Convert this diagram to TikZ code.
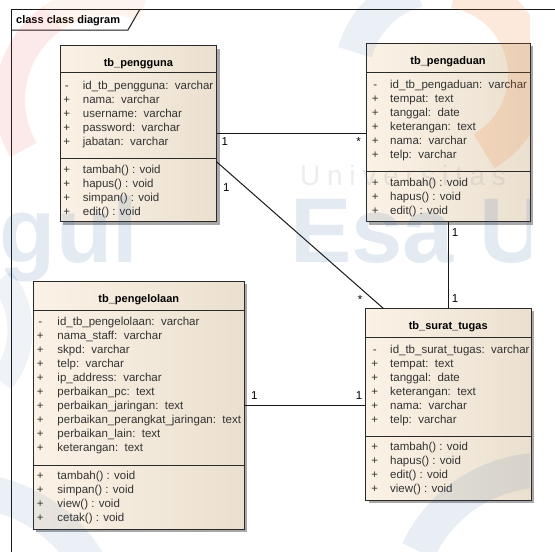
\documentclass[tikz,border=0pt]{standalone}
\usepackage{fontspec}
\setmainfont{Liberation Sans}
\newfontfamily\spacedfont[LetterSpace=24]{Liberation Sans}
\usetikzlibrary{calc}

\definecolor{boxleft}{HTML}{FBF2E6}
\definecolor{boxright}{HTML}{EBE0CF}
\definecolor{boxline}{HTML}{2A2A2A}
\definecolor{shadowgray}{HTML}{A8A8A8}
\definecolor{wmblue}{HTML}{2A5F9E}
\definecolor{wmorange}{HTML}{F07A2A}
\definecolor{wmred}{HTML}{D9342B}
\definecolor{wmgray}{HTML}{6D7480}

\tikzset{
  classbox/.style={draw=boxline, line width=1pt, left color=boxleft, right color=boxright,
    anchor=north west, inner sep=0pt, outer sep=0pt},
  sepline/.style={draw=boxline, line width=1pt},
  classtitle/.style={anchor=base, inner sep=0pt, font=\fontsize{11}{13}\selectfont\bfseries},
  members/.style={anchor=base west, inner sep=0pt, font=\fontsize{11.5}{14}\selectfont, text=black!80},
  mult/.style={anchor=base, inner sep=0pt, font=\fontsize{11.5}{14}\selectfont},
  assoc/.style={draw=black!90, line width=1pt},
  frameline/.style={draw=black!90, line width=1pt},
  wmtext/.style={inner sep=0pt, text opacity=0.13},
}

% class box: name, left, top, width, height, header height, attribute block bottom (from top)
\newcommand\umlclass[7]{%
  \fill[shadowgray] (#2+3,#3+3) rectangle ++(#4,#5);
  \node[classbox, minimum width=#4pt, minimum height=#5pt] (#1) at (#2,#3) {};
  \draw[sepline] ([yshift=-#6pt]#1.north west) -- ([yshift=-#6pt]#1.north east);
  \draw[sepline] ([yshift=-#7pt]#1.north west) -- ([yshift=-#7pt]#1.north east);
}
\newcommand\vis[1]{\makebox[10pt][c]{#1}}
% member list: gap between visibility column and text, rows
\newcommand\memberlist[2]{\begin{tabular}[t]{@{}c@{\hspace{#1}}l@{}}#2\end{tabular}}

\begin{document}
\begin{tikzpicture}[x=1pt,y=-1pt]
\useasboundingbox (0,0) rectangle (555,552);
\fill[white] (0,0) rectangle (555,552);
\clip (0,0) rectangle (555,552);

% diagram frame and its name tab
\draw[frameline] (11,9) rectangle (600,600);
\draw[frameline] (11,30) -- (128,30) -- (140,9);
\node[anchor=base west, inner sep=0pt, font=\fontsize{11}{13}\selectfont\bfseries] (frame-name) at (16,23.5) {class class diagram};

% classes
\umlclass{pengguna}{60}{45.7}{156.7}{176}{26.6}{113}
\umlclass{pengaduan}{366}{43.3}{164}{178.4}{29.4}{128.4}
\umlclass{surat}{365.5}{308.3}{165.5}{191.7}{29}{127.7}
\umlclass{pengelolaan}{33.3}{281}{211}{248.3}{29.5}{184.7}

% tb_pengguna
\node[classtitle] (pengguna-title) at ([yshift=-20.3pt]pengguna.north) {tb\_pengguna};
\node[members] (pengguna-attr) at (61.5,89.5) {\memberlist{11.2pt}{%
  \vis{-} & id\_tb\_pengguna:~~varchar\\
  \vis{+} & nama:~~varchar\\
  \vis{+} & username:~~varchar\\
  \vis{+} & password:~~varchar\\
  \vis{+} & jabatan:~~varchar}};
\node[members] (pengguna-ops) at (61.5,173) {\memberlist{11.2pt}{%
  \vis{+} & tambah() : void\\
  \vis{+} & hapus() : void\\
  \vis{+} & simpan() : void\\
  \vis{+} & edit() : void}};

% tb_pengaduan
\node[classtitle] (pengaduan-title) at ([yshift=-21pt]pengaduan.north) {tb\_pengaduan};
\node[members] (pengaduan-attr) at (370,88.5) {\memberlist{10pt}{%
  \vis{-} & id\_tb\_pengaduan:~~varchar\\
  \vis{+} & tempat:~~text\\
  \vis{+} & tanggal:~~date\\
  \vis{+} & keterangan:~~text\\
  \vis{+} & nama:~~varchar\\
  \vis{+} & telp:~~varchar}};
\node[members] (pengaduan-ops) at (370,186.2) {\memberlist{10pt}{%
  \vis{+} & tambah() : void\\
  \vis{+} & hapus() : void\\
  \vis{+} & edit() : void}};

% tb_surat_tugas
\node[classtitle] (surat-title) at ([yshift=-20.7pt]surat.north) {tb\_surat\_tugas};
\node[members] (surat-attr) at (369.5,353.5) {\memberlist{10.5pt}{%
  \vis{-} & id\_tb\_surat\_tugas:~~varchar\\
  \vis{+} & tempat:~~text\\
  \vis{+} & tanggal:~~date\\
  \vis{+} & keterangan:~~text\\
  \vis{+} & nama:~~varchar\\
  \vis{+} & telp:~~varchar}};
\node[members] (surat-ops) at (369.5,450.8) {\memberlist{10.5pt}{%
  \vis{+} & tambah() : void\\
  \vis{+} & hapus() : void\\
  \vis{+} & edit() : void\\
  \vis{+} & view() : void}};

% tb_pengelolaan
\node[classtitle] (pengelolaan-title) at ([yshift=-21pt]pengelolaan.north) {tb\_pengelolaan};
\node[members] (pengelolaan-attr) at (35,325.8) {\memberlist{12.3pt}{%
  \vis{-} & id\_tb\_pengelolaan:~~varchar\\
  \vis{+} & nama\_staff:~~varchar\\
  \vis{+} & skpd:~~varchar\\
  \vis{+} & telp:~~varchar\\
  \vis{+} & ip\_address:~~varchar\\
  \vis{+} & perbaikan\_pc:~~text\\
  \vis{+} & perbaikan\_jaringan:~~text\\
  \vis{+} & perbaikan\_perangkat\_jaringan:~~text\\
  \vis{+} & perbaikan\_lain:~~text\\
  \vis{+} & keterangan:~~text}};
\node[members] (pengelolaan-ops) at (35,479.8) {\memberlist{12.3pt}{%
  \vis{+} & tambah() : void\\
  \vis{+} & simpan() : void\\
  \vis{+} & view() : void\\
  \vis{+} & cetak() : void}};

% associations
\coordinate (pengguna-out) at ($(pengguna.north east)!0.66!(pengguna.south east)$);
\coordinate (surat-in) at ($(surat.north west)!0.107!(surat.north east)$);
\draw[assoc] (pengguna.east) -- (pengguna.east -| pengaduan.west);
\draw[assoc] (pengguna-out) -- (surat-in);
\draw[assoc] (pengaduan.south) -- (pengaduan.south |- surat.north);
\draw[assoc] (pengelolaan.east) -- (pengelolaan.east -| surat.west);

% multiplicities
\node[mult] (m1a) at (224.8,145.7) {1};
\node[mult] (m1b) at (358.5,145.7) {*};
\node[mult] (m2a) at (226.2,191.3) {1};
\node[mult] (m2b) at (360,303.3) {*};
\node[mult] (m3a) at (455,236.3) {1};
\node[mult] (m3b) at (455,302.3) {1};
\node[mult] (m4a) at (254.3,399.7) {1};
\node[mult] (m4b) at (359,399) {1};

% faint watermark laid over the sheet
\begin{scope}
  \clip (0,0) rectangle (530,552);
  \draw[line width=30pt, draw=wmred, draw opacity=0.10] (110,100) ++(150:100) arc[start angle=150, end angle=235, radius=100];
  \draw[line width=30pt, draw=wmorange, draw opacity=0.08] (110,100) ++(235:100) arc[start angle=235, end angle=290, radius=100];
  \draw[line width=40pt, draw=wmorange, draw opacity=0.16] (440,75) ++(-80:88) arc[start angle=-80, end angle=60, radius=88];
  \draw[line width=35pt, draw=wmblue, draw opacity=0.09] (440,75) ++(195:88) arc[start angle=195, end angle=255, radius=88];
  \draw[line width=35pt, draw=wmblue, draw opacity=0.10] (545,610) ++(205:140) arc[start angle=205, end angle=265, radius=140];
  \draw[line width=35pt, draw=wmblue, draw opacity=0.09] (-40,640) ++(275:150) arc[start angle=275, end angle=330, radius=150];
  \draw[line width=25pt, draw=wmblue, draw opacity=0.07] (-60,330) ++(-40:80) arc[start angle=-40, end angle=40, radius=80];
  \node[wmtext, anchor=base west, text=wmblue, font=\fontsize{92}{92}\selectfont\bfseries] (wm-esa) at (290,262) {Esa U};
  \node[wmtext, anchor=base east, text=wmblue, font=\fontsize{92}{92}\selectfont\bfseries] (wm-gul) at (138,262) {gul};
  \node[wmtext, anchor=base west, text=wmgray, font=\fontsize{28}{28}\selectfont] (wm-univ) at (300,185) {\spacedfont Universitas};
\end{scope}
\end{tikzpicture}
\end{document}
